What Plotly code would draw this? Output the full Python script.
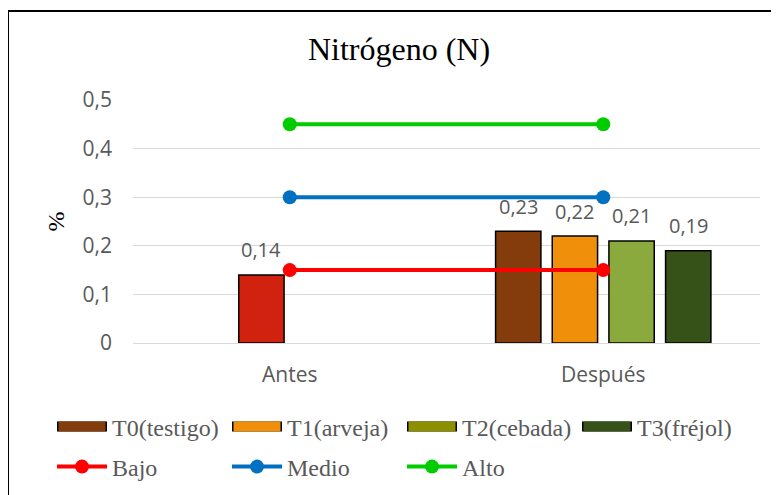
import plotly.graph_objects as go

# data
categorias = ["Antes", "Después"]
series = ["T0(testigo)", "T1(arveja)", "T2(cebada)", "T3(fréjol)"]
valores = [
    [None, 0.23],
    [0.14, 0.22],
    [None, 0.21],
    [None, 0.19],
]
colores = [
    ["#843C0C", "#843C0C"],
    ["#D0220F", "#F0900A"],
    ["#8BAA3E", "#8BAA3E"],
    ["#375219", "#375219"],
]
leyenda_col = ["#843C0C", "#F0900A", "#8B8F00", "#375219"]
niveles = ["Bajo", "Medio", "Alto"]
niveles_val = [0.15, 0.30, 0.45]
niveles_col = ["#FF0000", "#0070C0", "#00CC00"]

# the page adds an 8px body margin: positions below are in page pixels minus that offset
OFF = 8
W, H = 779, 495
ML, MT = 133 - OFF, 100 - OFF
MR = W - (760 - OFF)
MB = H - (343 - OFF)
pw = W - ML - MR
ph = H - MT - MB
bargap = 0.277
slot = (1 - bargap) * (pw / len(categorias)) / len(series)


def px_x(x):
    return (x - OFF - ML) / pw


def px_y(y):
    return (ph - (y - OFF - MT)) / ph


serif = "Liberation Serif, Times New Roman, serif"
sans = "Open Sans, Calibri, sans-serif"
gris = "#595959"

fig = go.Figure()

for i, (nombre, vals, cols) in enumerate(zip(series, valores, colores)):
    fig.add_trace(go.Bar(
        name=nombre, x=categorias, y=vals, showlegend=False,
        marker=dict(color=cols, line=dict(color="black", width=1.5)),
    ))
    for cat, v in zip(categorias, vals):
        if v is None:
            continue
        fig.add_annotation(
            x=cat, y=v, text=f"{v:.2f}".replace(".", ","),
            showarrow=False, xshift=(i - 1.5) * slot, yshift=25,
            font=dict(family=sans, size=20, color=gris),
        )

# wide legend swatches for the bar series: black outline + coloured fill
for nombre, c in zip(series, leyenda_col):
    fig.add_trace(go.Scatter(name=nombre, x=[None], y=[None], mode="lines",
                             line=dict(color="black", width=14), legend="legend"))
    fig.add_trace(go.Scatter(name=" ", x=[None], y=[None], mode="lines",
                             line=dict(color=c, width=10), legend="legend3"))

for nombre, v, c in zip(niveles, niveles_val, niveles_col):
    fig.add_trace(go.Scatter(
        name=nombre, x=categorias, y=[v, v], mode="lines+markers",
        line=dict(color=c, width=4), marker=dict(color=c, size=14),
        legend="legend2",
    ))

leg_font = dict(family=serif, size=24, color=gris)
leg_common = dict(orientation="h", xanchor="left", yanchor="middle",
                  entrywidthmode="pixels", font=leg_font, bgcolor="rgba(0,0,0,0)")
fig.update_layout(
    width=W, height=H,
    margin=dict(l=ML, r=MR, t=MT, b=MB, autoexpand=False),
    paper_bgcolor="white", plot_bgcolor="white",
    barmode="group", bargap=bargap, bargroupgap=0.2,
    title=dict(text="Nitrógeno (N)", x=(399 - OFF) / W, xref="container", xanchor="center",
               y=1 - (49 - OFF) / H, yref="container", yanchor="middle",
               font=dict(family=serif, size=32, color="black")),
    legend=dict(x=px_x(52), y=px_y(427), entrywidth=110, itemwidth=50, **leg_common),
    legend3=dict(x=px_x(53.5), y=px_y(427), entrywidth=113, itemwidth=47, **leg_common),
    legend2=dict(x=px_x(52), y=px_y(467), entrywidth=110, itemwidth=50, **leg_common),
    xaxis=dict(showgrid=False, showline=False, ticks="",
               tickfont=dict(family=sans, size=21, color=gris), ticklabelstandoff=17),
    yaxis=dict(range=[0, 0.5], dtick=0.1, tickformat=".1~f", showgrid=True,
               gridcolor="#D9D9D9", gridwidth=1, zeroline=True, zerolinecolor="#D9D9D9",
               zerolinewidth=1, ticks="", ticklabelstandoff=20,
               tickfont=dict(family=sans, size=21, color=gris),
               title=dict(text="%", font=dict(family=serif, size=24, color="black"), standoff=11)),
    separators=", ",
    shapes=[dict(type="rect", xref="paper", yref="paper",
                 x0=px_x(7 + 1), x1=px_x(W + 30),
                 y0=px_y(H + 30), y1=px_y(10 + 1),
                 line=dict(color="black", width=2), layer="below")],
)

fig.write_html("out.html")
